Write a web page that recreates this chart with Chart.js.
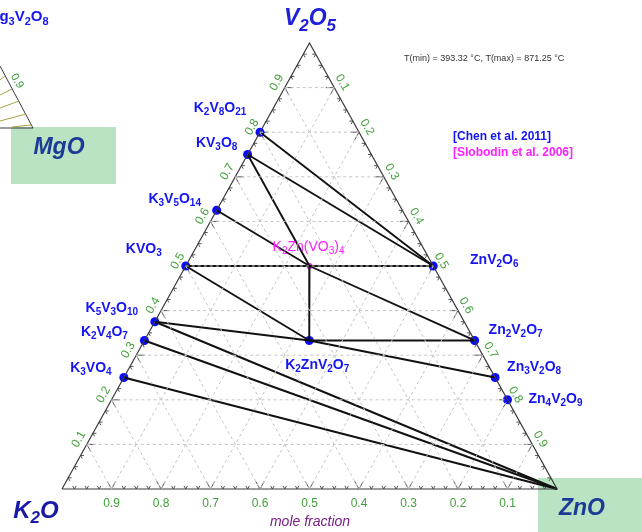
<!DOCTYPE html>
<html>
<head>
<meta charset="utf-8">
<script src="https://cdn.jsdelivr.net/npm/chart.js@4.4.1/dist/chart.umd.min.js"></script>
<style>
  html, body { margin: 0; padding: 0; background: #fff; }
</style>
</head>
<body>
<canvas id="grafico" width="642" height="532"></canvas>
<script>
// fases de Chen et al. 2011, fração molar [K2O, V2O5, ZnO]
const fasesChen = ['K2V8O21', 'KV3O8', 'K3V5O14', 'KVO3', 'K5V3O10', 'K2V4O7', 'K3VO4',
  'ZnV2O6', 'Zn2V2O7', 'Zn3V2O8', 'Zn4V2O9', 'K2ZnV2O7'];
const chenK2O = [0.2, 0.25, 0.375, 0.5, 0.625, 0.667, 0.75, 0, 0, 0, 0, 0.333];
const chenV2O5 = [0.8, 0.75, 0.625, 0.5, 0.375, 0.333, 0.25, 0.5, 0.333, 0.25, 0.2, 0.333];
const chenZnO = [0, 0, 0, 0, 0, 0, 0, 0.5, 0.667, 0.75, 0.8, 0.333];

// fase de Slobodin et al. 2006
const fasesSlobodin = ['K2Zn(VO3)4'];
const slobodinK2O = [0.25];
const slobodinV2O5 = [0.5];
const slobodinZnO = [0.25];

// vértices do triângulo
const vertices = ['K2O', 'V2O5', 'ZnO'];
const verticeK2O = [1, 0, 0];
const verticeV2O5 = [0, 1, 0];
const verticeZnO = [0, 0, 1];

// linhas de conexão (tie-lines)
const tieLines = [
  ['K2V8O21', 'ZnV2O6'],
  ['KV3O8', 'ZnV2O6'],
  ['KV3O8', 'K2Zn(VO3)4'],
  ['K3V5O14', 'K2Zn(VO3)4'],
  ['KVO3', 'ZnV2O6'],
  ['K2Zn(VO3)4', 'K2ZnV2O7'],
  ['K2Zn(VO3)4', 'Zn2V2O7'],
  ['KVO3', 'K2ZnV2O7'],
  ['K2ZnV2O7', 'Zn2V2O7'],
  ['K5V3O10', 'K2ZnV2O7'],
  ['K2ZnV2O7', 'Zn3V2O8'],
  ['K5V3O10', 'ZnO'],
  ['K2V4O7', 'ZnO'],
  ['K3VO4', 'ZnO']
];

const tickValores = [0.1, 0.2, 0.3, 0.4, 0.5, 0.6, 0.7, 0.8, 0.9];
const tickTextos = ['0.1', '0.2', '0.3', '0.4', '0.5', '0.6', '0.7', '0.8', '0.9'];
const passoMenor = 0.025;

// deslocamento dos rótulos em relação ao ponto (px)
const posRotulo = {
  'K2V8O21': [-40, -24], 'KV3O8': [-31, -11], 'K3V5O14': [-42, -11], 'KVO3': [-42, -17],
  'K5V3O10': [-43, -14], 'K2V4O7': [-40, -8], 'K3VO4': [-33, -9],
  'ZnV2O6': [61, -6], 'Zn2V2O7': [41, -10], 'Zn3V2O8': [39, -10], 'Zn4V2O9': [48, -1],
  'K2ZnV2O7': [8, 25], 'K2Zn(VO3)4': [-1, -19]
};

const FONTE = '"Liberation Sans", Arial, sans-serif';

const composicao = {};
fasesChen.forEach((f, i) => { composicao[f] = [chenK2O[i], chenV2O5[i], chenZnO[i]]; });
fasesSlobodin.forEach((f, i) => { composicao[f] = [slobodinK2O[i], slobodinV2O5[i], slobodinZnO[i]]; });
vertices.forEach((f, i) => { composicao[f] = [verticeK2O[i], verticeV2O5[i], verticeZnO[i]]; });

function paraXY(c) {
  return { x: c[2] + c[1] / 2, y: c[1] };
}

function linha(a, b, cor, largura, traco) {
  return {
    data: [paraXY(a), paraXY(b)],
    showLine: true, pointRadius: 0, borderColor: cor, borderWidth: largura,
    borderDash: traco || [], clip: false
  };
}

const datasets = [];

tickValores.forEach((t) => {
  const cinza = '#c4c4c4';
  datasets.push(linha([1 - t, t, 0], [0, t, 1 - t], cinza, 1, [3, 3]));
  datasets.push(linha([1 - t, 0, t], [0, 1 - t, t], cinza, 1, [3, 3]));
  datasets.push(linha([t, 1 - t, 0], [t, 0, 1 - t], cinza, 1, [3, 3]));
});

datasets.push({
  data: [composicao.K2O, composicao.ZnO, composicao.V2O5, composicao.K2O].map(paraXY),
  showLine: true, pointRadius: 0, borderColor: '#3a3a3a', borderWidth: 1.2, clip: false
});

tieLines.forEach(([a, b]) => datasets.push(linha(composicao[a], composicao[b], '#111', 1.9)));

datasets.push({
  data: fasesChen.map((f) => paraXY(composicao[f])),
  pointRadius: 4.5, pointBackgroundColor: '#0a0aff', pointBorderWidth: 0, clip: false
});
datasets.push({
  data: fasesSlobodin.map((f) => paraXY(composicao[f])),
  pointRadius: 3, pointBackgroundColor: '#ff10ff', pointBorderWidth: 0, clip: false
});

function escreverFormula(ctx, texto, cx, cy, tam, cor, estilo) {
  const partes = texto.match(/\d+|[^\d]+/g);
  const fonteN = `${estilo} ${tam}px ${FONTE}`;
  const fonteS = `${estilo} ${Math.round(tam * 0.72)}px ${FONTE}`;
  let largura = 0;
  partes.forEach((p) => {
    ctx.font = /\d/.test(p) ? fonteS : fonteN;
    largura += ctx.measureText(p).width;
  });
  let x = cx - largura / 2;
  ctx.fillStyle = cor;
  ctx.textAlign = 'left';
  ctx.textBaseline = 'middle';
  partes.forEach((p) => {
    const sub = /\d/.test(p);
    ctx.font = sub ? fonteS : fonteN;
    ctx.fillText(p, x, sub ? cy + tam * 0.3 : cy);
    x += ctx.measureText(p).width;
  });
}

function textoGirado(ctx, texto, x, y, ang, cor, fonte) {
  ctx.save();
  ctx.translate(x, y);
  ctx.rotate(ang);
  ctx.font = fonte;
  ctx.fillStyle = cor;
  ctx.textAlign = 'center';
  ctx.textBaseline = 'middle';
  ctx.fillText(texto, 0, 0);
  ctx.restore();
}

const desenhoExtra = {
  id: 'desenhoExtra',
  beforeDatasetsDraw(chart) {
    const { ctx } = chart;
    const px = (c) => {
      const p = paraXY(c);
      return { x: chart.scales.x.getPixelForValue(p.x), y: chart.scales.y.getPixelForValue(p.y) };
    };
    ctx.save();
    ctx.fillStyle = '#b9e3c3';
    ctx.fillRect(11, 127, 105, 57);
    ctx.fillRect(538, 478, 104, 54);

    // pedaço do outro diagrama no canto
    ctx.strokeStyle = '#3a3a3a';
    ctx.lineWidth = 1;
    ctx.beginPath();
    ctx.moveTo(0, 66); ctx.lineTo(33, 128); ctx.lineTo(0, 128);
    ctx.stroke();
    ctx.strokeStyle = '#a9a34a';
    [[5, 76, 0, 80], [12, 89, 0, 95], [19, 101, 0, 108], [26, 114, 0, 121], [31, 125, 12, 127]].forEach(([x1, y1, x2, y2]) => {
      ctx.beginPath(); ctx.moveTo(x1, y1); ctx.lineTo(x2, y2); ctx.stroke();
    });
    textoGirado(ctx, '0.9', 17, 81, Math.PI / 3, '#3c9a3c', `11px ${FONTE}`);

    // marcas dos eixos
    ctx.strokeStyle = '#555';
    ctx.lineWidth = 1;
    const marca = (c, idx, d) => {
      const p = px(c);
      const outros = [0, 1, 2].filter((i) => i !== idx);
      outros.forEach((o) => {
        const q = c.slice();
        q[idx] += d;
        q[o] -= d;
        const pq = px(q);
        ctx.beginPath(); ctx.moveTo(p.x, p.y); ctx.lineTo(pq.x, pq.y); ctx.stroke();
      });
    };
    for (let s = passoMenor; s < 0.999; s += passoMenor) {
      const maior = Math.abs(s * 10 - Math.round(s * 10)) < 1e-6;
      const d = maior ? 0.017 : 0.007;
      marca([1 - s, 0, s], 1, d);
      marca([1 - s, s, 0], 2, d);
      marca([0, 1 - s, s], 0, d);
    }
    ctx.restore();
  },
  afterDatasetsDraw(chart) {
    const { ctx } = chart;
    const px = (c) => {
      const p = paraXY(c);
      return { x: chart.scales.x.getPixelForValue(p.x), y: chart.scales.y.getPixelForValue(p.y) };
    };
    ctx.save();
    const verde = '#44a03c';
    const fonteTick = `12px ${FONTE}`;
    tickValores.forEach((t, i) => {
      const b = px([t, 0, 1 - t]);
      textoGirado(ctx, tickTextos[i], b.x, b.y + 15, 0, verde, fonteTick);
      const e = px([1 - t, t, 0]);
      textoGirado(ctx, tickTextos[i], e.x - 8, e.y - 5, -Math.PI / 3, verde, fonteTick);
      const d = px([0, 1 - t, t]);
      textoGirado(ctx, tickTextos[i], d.x + 8, d.y - 5, Math.PI / 3, verde, fonteTick);
    });

    fasesChen.forEach((f) => {
      const p = px(composicao[f]);
      const [dx, dy] = posRotulo[f];
      escreverFormula(ctx, f, p.x + dx, p.y + dy, 14, '#1414f5', 'bold');
    });
    fasesSlobodin.forEach((f) => {
      const p = px(composicao[f]);
      const [dx, dy] = posRotulo[f];
      escreverFormula(ctx, f, p.x + dx, p.y + dy, 14, '#ff20ff', '');
    });

    escreverFormula(ctx, 'V2O5', 310, 19, 23, '#2020d8', 'italic bold');
    escreverFormula(ctx, 'K2O', 36, 511, 24, '#1a1aa8', 'italic bold');
    escreverFormula(ctx, 'ZnO', 582, 509, 23, '#1c3a96', 'italic bold');
    escreverFormula(ctx, 'MgO', 59, 148, 23, '#1c3a96', 'italic bold');
    escreverFormula(ctx, 'g3V2O8', 24, 17, 15, '#1414f5', 'bold');

    ctx.textBaseline = 'middle';
    ctx.textAlign = 'center';
    ctx.font = `italic 14px ${FONTE}`;
    ctx.fillStyle = '#7a1f86';
    ctx.fillText('mole fraction', 310, 522);

    ctx.textAlign = 'left';
    ctx.font = `9px ${FONTE}`;
    ctx.fillStyle = '#333';
    ctx.fillText('T(min) = 393.32 °C, T(max) = 871.25 °C', 404, 59);

    ctx.font = `bold 12px ${FONTE}`;
    ctx.fillStyle = '#1414f5';
    ctx.fillText('[Chen et al. 2011]', 453, 137);
    ctx.fillStyle = '#ff20ff';
    ctx.fillText('[Slobodin et al. 2006]', 453, 153);
    ctx.restore();
  }
};

new Chart(document.getElementById('grafico'), {
  type: 'scatter',
  data: { datasets },
  options: {
    responsive: false,
    animation: false,
    layout: { padding: { left: 62, right: 85, top: 43, bottom: 43 } },
    scales: {
      x: { type: 'linear', min: 0, max: 1, display: false },
      y: { type: 'linear', min: 0, max: 1, display: false }
    },
    plugins: { legend: { display: false }, tooltip: { enabled: false } }
  },
  plugins: [desenhoExtra]
});
</script>
</body>
</html>
